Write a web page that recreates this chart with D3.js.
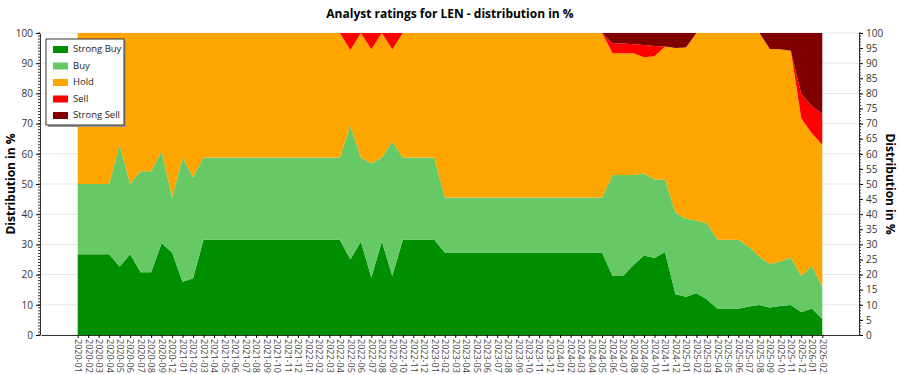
<!DOCTYPE html>
<html>
<head>
<meta charset="utf-8">
<script src="https://cdn.jsdelivr.net/npm/d3@7"></script>
<style>
  body { margin: 0; background: #fff; }
  text { font-family: "Open Sans", "Noto Sans", sans-serif; }
</style>
</head>
<body>
<div class="chart"></div>
<script>
const months = ['2020-01','2020-02','2020-03','2020-04','2020-05','2020-06','2020-07','2020-08','2020-09','2020-12',
    '2021-01','2021-02','2021-03','2021-04','2021-05','2021-06','2021-07','2021-08','2021-09','2021-10','2021-11','2021-12',
    '2022-01','2022-02','2022-03','2022-04','2022-05','2022-06','2022-07','2022-08','2022-09','2022-10','2022-11','2022-12',
    '2023-01','2023-02','2023-03','2023-04','2023-05','2023-06','2023-07','2023-08','2023-09','2023-10','2023-11','2023-12',
    '2024-01','2024-02','2024-03','2024-04','2024-05','2024-06','2024-07','2024-08','2024-09','2024-10','2024-11','2024-12',
    '2025-01','2025-02','2025-03','2025-04','2025-05','2025-06','2025-07','2025-08','2025-09','2025-10','2025-11','2025-12',
    '2026-01','2026-02'];

const strongBuy = [26.7,26.7,26.7,26.7,22.7,26.7,20.8,20.8,30.4,27.3,
    17.6,18.8,31.5,31.5,31.5,31.5,31.5,31.5,31.5,31.5,31.5,31.5,
    31.5,31.5,31.5,31.5,25,31,19,31,19.5,31.5,31.5,31.5,
    31.5,27.3,27.3,27.3,27.3,27.3,27.3,27.3,27.3,27.3,27.3,27.3,
    27.3,27.3,27.3,27.3,27.3,19.5,19.5,23.2,26.3,25.5,27.5,13.5,
    12.7,13.8,11.8,8.7,8.7,8.7,9.4,9.9,9.1,9.6,9.9,7.5,
    8.8,5.3];
const buy = [23.3,23.3,23.3,23.3,40.3,23.3,33.4,33.4,30.5,18.2,
    41.2,33.4,27.3,27.3,27.3,27.3,27.3,27.3,27.3,27.3,27.3,27.3,
    27.3,27.3,27.3,27.3,44.4,27.8,37.8,27.8,44.5,27.3,27.3,27.3,
    27.3,18.2,18.2,18.2,18.2,18.2,18.2,18.2,18.2,18.2,18.2,18.2,
    18.2,18.2,18.2,18.2,18.2,33.5,33.5,29.8,27.2,26,24,27,
    25.8,24,25.2,22.8,22.8,22.8,19.8,16,14.4,14.7,15.8,12,
    14.1,10.5];
const hold = [50,50,50,50,37,50,45.8,45.8,39.1,54.5,
    41.2,47.8,41.2,41.2,41.2,41.2,41.2,41.2,41.2,41.2,41.2,41.2,
    41.2,41.2,41.2,41.2,25,41.2,37.8,41.2,30.6,41.2,41.2,41.2,
    41.2,54.5,54.5,54.5,54.5,54.5,54.5,54.5,54.5,54.5,54.5,54.5,
    54.5,54.5,54.5,54.5,54.5,40.3,40.3,40.3,38.5,40.8,44,54.5,
    56.7,62.2,63,68.5,68.5,68.5,70.8,74.1,71.2,70.3,68.4,52.2,
    43.9,47.2];
const sell = [0,0,0,0,0,0,0,0,0,0,
    0,0,0,0,0,0,0,0,0,0,0,0,
    0,0,0,0,5.6,0,5.4,0,5.4,0,0,0,
    0,0,0,0,0,0,0,0,0,0,0,0,
    0,0,0,0,0,3.2,3.2,3.0,4.0,3.4,0,0,
    0,0,0,0,0,0,0,0,0,0,0,8.1,
    9,10.2];
const strongSell = [0,0,0,0,0,0,0,0,0,0,
    0,0,0,0,0,0,0,0,0,0,0,0,
    0,0,0,0,0,0,0,0,0,0,0,0,
    0,0,0,0,0,0,0,0,0,0,0,0,
    0,0,0,0,0,3.5,3.5,3.7,4.0,4.3,4.5,5,
    4.8,0,0,0,0,0,0,0,5.3,5.4,5.9,20.2,
    24.2,26.8];

const seriesNames = ['Strong Buy', 'Buy', 'Hold', 'Sell', 'Strong Sell'];
const colors = ['#008f00', '#66c966', '#ffa500', '#ff0000', '#800000'];

const table = months.map((m, i) => ({
    month: m,
    'Strong Buy': strongBuy[i],
    'Buy': buy[i],
    'Hold': hold[i],
    'Sell': sell[i],
    'Strong Sell': strongSell[i]
}));

const W = 900, H = 375;
const plot = { left: 41, right: 859, top: 33, bottom: 335 };

const svg = d3.select('.chart')
    .append('svg')
        .attr('width', W)
        .attr('height', H);

const xScale = d3.scalePoint()
    .domain(months)
    .range([plot.left, plot.right])
    .padding(3.5);

const yScale = d3.scaleLinear()
    .domain([0, 100])
    .range([plot.bottom, plot.top]);

// grid lines
svg.append('g')
    .selectAll('line')
    .data(d3.range(0, 101, 10))
    .enter()
    .append('line')
        .attr('x1', plot.left)
        .attr('x2', plot.right)
        .attr('y1', d => yScale(d))
        .attr('y2', d => yScale(d))
        .attr('stroke', '#e6e6e6')
        .attr('stroke-width', 1);

const stack = d3.stack().keys(seriesNames);
const layers = stack(table);

const area = d3.area()
    .x(d => xScale(d.data.month))
    .y0(d => yScale(d[0]))
    .y1(d => yScale(d[1]));

svg.append('g')
    .selectAll('path')
    .data(layers)
    .enter()
    .append('path')
        .attr('d', area)
        .attr('fill', (d, i) => colors[i]);

// left axis
const yAxisLeft = d3.axisLeft(yScale)
    .tickValues(d3.range(0, 101, 10))
    .tickSize(4)
    .tickSizeOuter(0)
    .tickPadding(3);
const gl = svg.append('g')
    .attr('transform', `translate(${plot.left - 1},0)`)
    .call(yAxisLeft);
gl.selectAll('text').attr('font-size', 10).attr('fill', '#333');
gl.select('.domain').attr('stroke', '#333');
gl.selectAll('.minor')
    .data(d3.range(0, 101, 1))
    .enter()
    .append('line')
        .attr('x1', -2).attr('x2', 0)
        .attr('y1', d => yScale(d)).attr('y2', d => yScale(d))
        .attr('stroke', '#333');

// right axis
const yAxisRight = d3.axisRight(yScale)
    .tickValues(d3.range(0, 101, 5))
    .tickSize(4)
    .tickSizeOuter(0)
    .tickPadding(3);
const gr = svg.append('g')
    .attr('transform', `translate(${plot.right},0)`)
    .call(yAxisRight);
gr.selectAll('text').attr('font-size', 10).attr('fill', '#333');
gr.select('.domain').attr('stroke', '#333');
gr.selectAll('.minor')
    .data(d3.range(0, 101, 1))
    .enter()
    .append('line')
        .attr('x1', 0).attr('x2', 2)
        .attr('y1', d => yScale(d)).attr('y2', d => yScale(d))
        .attr('stroke', '#333');

// bottom axis
const xAxis = d3.axisBottom(xScale)
    .tickSize(3)
    .tickSizeOuter(0)
    .tickPadding(2);
const gx = svg.append('g')
    .attr('transform', `translate(0,${plot.bottom})`)
    .call(xAxis);
gx.select('.domain').attr('stroke', '#333');
gx.selectAll('text')
    .attr('font-size', 9)
    .attr('fill', '#444')
    .attr('transform', 'rotate(90)')
    .attr('x', 4)
    .attr('y', 0)
    .attr('dy', '0.35em')
    .style('text-anchor', 'start');

// title and axis titles
svg.append('text')
    .attr('x', 450)
    .attr('y', 18)
    .attr('text-anchor', 'middle')
    .attr('font-size', 12)
    .attr('font-weight', 'bold')
    .text('Analyst ratings for LEN - distribution in %');

svg.append('text')
    .attr('transform', `translate(15,${(plot.top + plot.bottom) / 2}) rotate(-90)`)
    .attr('text-anchor', 'middle')
    .attr('font-size', 12)
    .attr('font-weight', 'bold')
    .text('Distribution in %');

svg.append('text')
    .attr('transform', `translate(886,${(plot.top + plot.bottom) / 2}) rotate(90)`)
    .attr('text-anchor', 'middle')
    .attr('font-size', 12)
    .attr('font-weight', 'bold')
    .text('Distribution in %');

// legend
const legend = svg.append('g').attr('transform', 'translate(46,39)');
legend.append('rect')
    .attr('x', 2).attr('y', 2)
    .attr('width', 78).attr('height', 86)
    .attr('fill', '#999');
legend.append('rect')
    .attr('width', 78).attr('height', 86)
    .attr('fill', '#fff')
    .attr('stroke', '#333');
const items = legend.selectAll('.item')
    .data(seriesNames)
    .enter()
    .append('g')
        .attr('transform', (d, i) => `translate(7,${10 + i * 16.5})`);
items.append('rect')
    .attr('x', 0).attr('y', -3)
    .attr('width', 15).attr('height', 7)
    .attr('fill', (d, i) => colors[i]);
items.append('text')
    .attr('x', 20).attr('y', 0)
    .attr('dy', '0.35em')
    .attr('font-size', 9.5)
    .attr('fill', '#222')
    .text(d => d);
</script>
</body>
</html>
